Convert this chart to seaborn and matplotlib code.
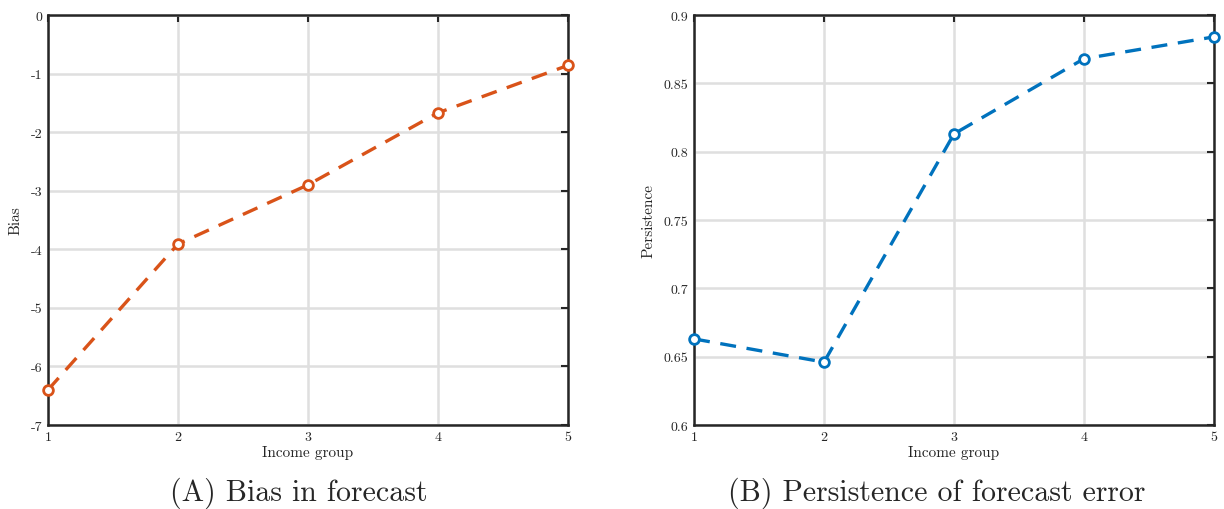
import matplotlib
matplotlib.use("Agg")
import matplotlib.pyplot as plt
import seaborn as sns

groups = [1, 2, 3, 4, 5]
bias = [-6.40, -3.91, -2.90, -1.67, -0.86]
persistence = [0.663, 0.646, 0.813, 0.868, 0.884]

bias_ticks = [0, -1, -2, -3, -4, -5, -6, -7]
bias_ticklabels = ["0", "-1", "-2", "-3", "-4", "-5", "-6", "-7"]
pers_ticks = [0.6, 0.65, 0.7, 0.75, 0.8, 0.85, 0.9]
pers_ticklabels = ["0.6", "0.65", "0.7", "0.75", "0.8", "0.85", "0.9"]

sns.set_style("white")
plt.rcParams["font.family"] = ["cmr10", "DejaVu Serif"]
plt.rcParams["mathtext.fontset"] = "cm"

fig = plt.figure(figsize=(12.24, 5.10), dpi=100)
ax1 = fig.add_axes([0.0392, 0.1647, 0.4248, 0.8039])
ax2 = fig.add_axes([0.567, 0.1647, 0.4248, 0.8039])


def style(ax, ticks, labels, ylim, ylabel):
    ax.set_xlim(1, 5)
    ax.set_ylim(*ylim)
    ax.set_xticks(groups)
    ax.set_xticklabels([str(g) for g in groups])
    ax.set_yticks(ticks)
    ax.set_yticklabels(labels)
    ax.grid(True, color="#dfdfdf", linewidth=1.8)
    ax.set_axisbelow(True)
    for s in ax.spines.values():
        s.set_color("#262626")
        s.set_linewidth(1.8)
    ax.tick_params(direction="in", length=5, width=1.5, top=True, right=True,
                   labelsize=10, colors="#262626", labelcolor="#262626", pad=4)
    ax.set_xlabel("Income group", fontsize=11, labelpad=2)
    ax.set_ylabel(ylabel, fontsize=11, labelpad=6)


sns.lineplot(x=groups, y=bias, ax=ax1, color="#D95319", dashes=False,
             linewidth=2.4, marker="o", markersize=7, markerfacecolor="white",
             markeredgecolor="#D95319", markeredgewidth=2.0, clip_on=False, zorder=5)
ax1.lines[0].set_dashes((4.8, 3.2))
style(ax1, bias_ticks, bias_ticklabels, (-7, 0), "Bias")

sns.lineplot(x=groups, y=persistence, ax=ax2, color="#0072BD", dashes=False,
             linewidth=2.4, marker="o", markersize=7, markerfacecolor="white",
             markeredgecolor="#0072BD", markeredgewidth=2.0, clip_on=False, zorder=5)
ax2.lines[0].set_dashes((4.8, 3.2))
style(ax2, pers_ticks, pers_ticklabels, (0.6, 0.9), "Persistence")

fig.text(0.244, 0.033, "(A) Bias in forecast", ha="center", va="center", fontsize=21.5)
fig.text(0.7655, 0.033, "(B) Persistence of forecast error", ha="center", va="center", fontsize=21.5)

fig.savefig("out.png", dpi=100)
